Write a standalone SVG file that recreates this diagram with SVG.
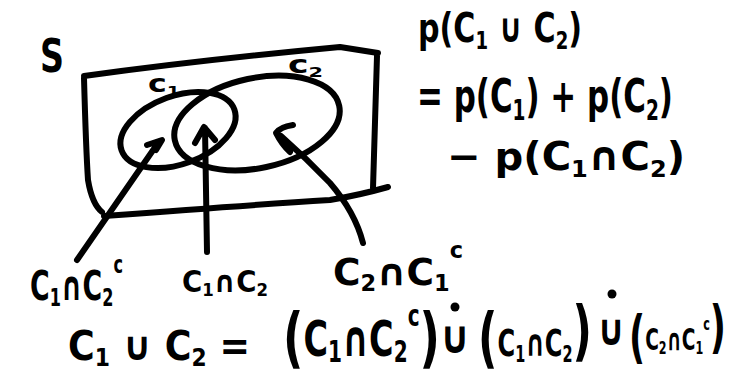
<svg xmlns="http://www.w3.org/2000/svg" width="733" height="375" viewBox="0 0 733 375">
<style>
.ink{fill:none;stroke:#000;stroke-width:6;stroke-linecap:round;stroke-linejoin:round}
.t{font-family:"DejaVu Sans","Liberation Sans",sans-serif;font-weight:bold;fill:#000}
.s{font-size:60%}
</style>
<rect width="733" height="375" fill="#fff"/>
<g id="sample-space">
<path class="ink" d="M84,76 Q200,60 340,47 L378,53 M377,56 L373,188 M104,216 Q250,205 330,200 Q360,195 388,187 M84,78 Q86,150 88,180 Q92,204 102,212"/>
<text class="t" x="40" y="72" font-size="46" textLength="24" lengthAdjust="spacingAndGlyphs">S</text>
</g>
<g id="c1">
<ellipse class="ink" cx="178" cy="130" rx="60" ry="34" transform="rotate(-20 178 130)"/>
<text class="t" x="148" y="92" font-size="24" textLength="32" lengthAdjust="spacingAndGlyphs">c<tspan class="s" dy="4">1</tspan></text>
</g>
<g id="c2">
<ellipse class="ink" cx="257" cy="123" rx="84" ry="45" transform="rotate(-12 257 123)"/>
<text class="t" x="288" y="73" font-size="24" textLength="35" lengthAdjust="spacingAndGlyphs">c<tspan class="s" dy="4">2</tspan></text>
</g>
<g id="connectors">
<path class="ink" d="M77,260 L158,143 M147,145 L162,140 L156,150"/>
<path class="ink" d="M207,252 L205,128 M195,143 L204,127 L215,140"/>
<path class="ink" d="M363,243 Q355,212 330,183 Q306,158 281,136 M293,125 Q280,127 276,133 Q282,145 290,152"/>
</g>
<g id="label-c1-only">
<text class="t" transform="translate(30,300) scale(1,1.5)" font-size="27" textLength="93" lengthAdjust="spacingAndGlyphs">C<tspan class="s" dy="4">1</tspan><tspan dy="-4">∩C</tspan><tspan class="s" dy="4">2</tspan><tspan class="s" dy="-22">c</tspan></text>
</g>
<g id="label-both">
<text class="t" transform="translate(182,292) scale(1,1.1)" font-size="27" textLength="86" lengthAdjust="spacingAndGlyphs">C<tspan class="s" dy="4">1</tspan><tspan dy="-4">∩C</tspan><tspan class="s" dy="4">2</tspan></text>
</g>
<g id="label-c2-only">
<text class="t" x="333" y="285" font-size="37" textLength="130" lengthAdjust="spacingAndGlyphs">C<tspan class="s" dy="6">2</tspan><tspan dy="-6">∩C</tspan><tspan class="s" dy="6">1</tspan><tspan class="s" dy="-33">c</tspan></text>
</g>
<g id="formula-prob">
<text class="t" transform="translate(418,42) scale(1,1.35)" font-size="30" textLength="164" lengthAdjust="spacingAndGlyphs">p(C<tspan class="s" dy="5">1</tspan><tspan dy="-5"> ∪ C</tspan><tspan class="s" dy="5">2</tspan><tspan dy="-5">)</tspan></text>
<text class="t" transform="translate(417,112) scale(1,1.5)" font-size="31" textLength="256" lengthAdjust="spacingAndGlyphs">= p(C<tspan class="s" dy="5">1</tspan><tspan dy="-5">) + p(C</tspan><tspan class="s" dy="5">2</tspan><tspan dy="-5">)</tspan></text>
<text class="t" transform="translate(447,170) scale(1,1.1)" font-size="36" textLength="238" lengthAdjust="spacingAndGlyphs">−  p(C<tspan class="s" dy="6">1</tspan><tspan dy="-6">∩C</tspan><tspan class="s" dy="6">2</tspan><tspan dy="-6">)</tspan></text>
</g>
<g id="formula-union">
<text class="t" transform="translate(68,360) scale(1,1.15)" font-size="35" textLength="182" lengthAdjust="spacingAndGlyphs">C<tspan class="s" dy="5">1</tspan><tspan dy="-5"> ∪ C</tspan><tspan class="s" dy="5">2</tspan><tspan dy="-5"> =</tspan></text>
<text class="t" transform="translate(283,360) scale(1,1.5)" font-size="33" textLength="157" lengthAdjust="spacingAndGlyphs"><tspan font-size="44">(</tspan><tspan dy="-3">C</tspan><tspan class="s" dy="4">1</tspan><tspan dy="-4">∩C</tspan><tspan class="s" dy="4">2</tspan><tspan class="s" dy="-24">c</tspan><tspan font-size="44" dy="23">)</tspan></text>
<text class="t" transform="translate(455,353) scale(1,1.2)" font-size="38" text-anchor="middle">∪</text>
<circle cx="455" cy="307" r="4.5"/>
<text class="t" transform="translate(478,360) scale(1,1.5)" font-size="25" textLength="114" lengthAdjust="spacingAndGlyphs"><tspan font-size="44">(</tspan><tspan dy="-3">C</tspan><tspan class="s" dy="4">1</tspan><tspan dy="-4">∩C</tspan><tspan class="s" dy="4">2</tspan><tspan font-size="44" dy="-6">)</tspan></text>
<text class="t" transform="translate(611,345) scale(1,1.25)" font-size="35" text-anchor="middle">∪</text>
<circle cx="612" cy="294" r="4.5"/>
<text class="t" transform="translate(629,356) scale(1,1.6)" font-size="19" textLength="97" lengthAdjust="spacingAndGlyphs"><tspan font-size="36">(</tspan><tspan dy="-4">C</tspan><tspan class="s" dy="3">2</tspan><tspan dy="-3">∩C</tspan><tspan class="s" dy="3">1</tspan><tspan class="s" dy="-15">c</tspan><tspan font-size="36" dy="10">)</tspan></text>
</g>
</svg>
